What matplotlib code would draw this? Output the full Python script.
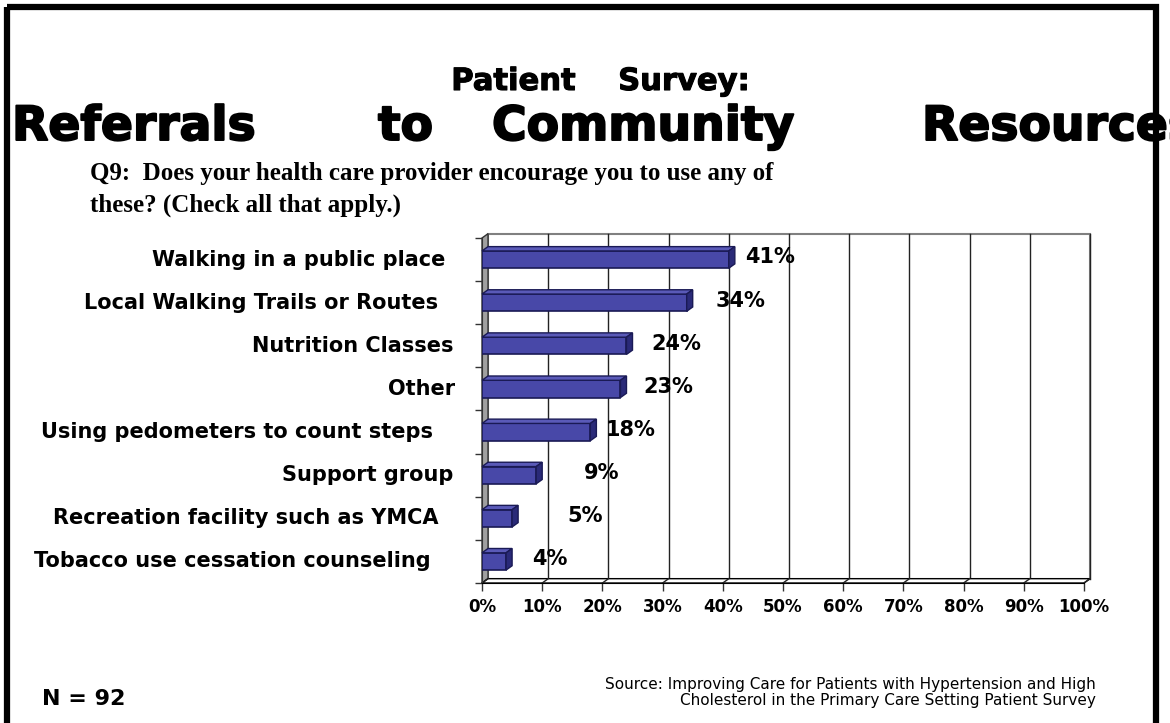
import matplotlib
matplotlib.use("Agg")
import matplotlib.pyplot as plt
import matplotlib.patheffects as pe
from matplotlib.patches import Polygon, Rectangle

# Survey answers, top to bottom
categories = [
    "Walking in a public place",
    "Local Walking Trails or Routes",
    "Nutrition Classes",
    "Other",
    "Using pedometers to count steps",
    "Support group",
    "Recreation facility such as YMCA",
    "Tobacco use cessation counseling",
]
percents = [41, 34, 24, 23, 18, 9, 5, 4]
x_ticks = [0, 10, 20, 30, 40, 50, 60, 70, 80, 90, 100]
x_tick_labels = [f"{t}%" for t in x_ticks]

# hand placement of the labels, in % of the value axis
name_right = [-6.1, -7.3, -4.8, -4.5, -8.1, -4.8, -7.3, -8.6]
value_nudge = [6.8, 9.0, 8.2, 7.9, 6.7, 10.8, 12.1, 7.3]

W, H = 1170, 723
FRONT = "#4848a8"
TOP = "#5a5ab8"
SIDE = "#2a2a78"
EDGE = "#1a1a55"
SANS = "DejaVu Sans"
SERIF = "Liberation Serif"

fig = plt.figure(figsize=(W / 100, H / 100), dpi=100)
fig.patch.set_facecolor("white")

# full-page layer in pixel units for the slide text and frame
page = fig.add_axes([0, 0, 1, 1])
page.set_xlim(0, W)
page.set_ylim(H, 0)
page.axis("off")

page.text(600, 90, "Patient    Survey:", ha="center", va="baseline",
          fontsize=22, fontweight="bold", family=SANS,
          path_effects=[pe.withStroke(linewidth=0.8, foreground="black")])

clip = Rectangle((0, 0), 1156, H, transform=page.transData)
for word, x0 in zip(["Referrals", "to", "Community", "Resources"],
                    [12, 378, 492, 922]):
    t = page.text(x0, 140, word, ha="left", va="baseline",
                  fontsize=34, fontweight="bold", family=SANS,
                  path_effects=[pe.withStroke(linewidth=1.4, foreground="black")])
    t.set_clip_path(clip)

page.text(90, 180, "Q9:  Does your health care provider encourage you to use any of",
          ha="left", va="baseline", fontsize=18, fontweight="bold", family=SERIF)
page.text(90, 212, "these? (Check all that apply.)",
          ha="left", va="baseline", fontsize=18, fontweight="bold", family=SERIF)

page.text(42, 705, "N = 92", ha="left", va="baseline",
          fontsize=16, fontweight="bold", family=SANS)
page.text(1096, 705,
          "Source: Improving Care for Patients with Hypertension and High\n"
          "Cholesterol in the Primary Care Setting Patient Survey",
          ha="right", va="baseline", multialignment="right",
          fontsize=11, family=SANS, linespacing=1.1)

page.add_patch(Rectangle((7, 7), 1149, 760, fill=False, edgecolor="black",
                         linewidth=4.5, zorder=10))

# chart: front plane 0..100 % across, 8 slots down
ax = fig.add_axes([482 / W, 1 - 583 / H, 602 / W, 345 / H])
ax.set_xlim(0, 100)
ax.set_ylim(8, 0)
ax.set_facecolor("none")
n = len(categories)
dx, dy = 1.0, 0.1  # depth of the 3-D walls

# back wall with gridlines
ax.add_patch(Rectangle((dx, -dy), 100, n, facecolor="white",
                       edgecolor="#808080", linewidth=1.5, zorder=0, clip_on=False))
for t in x_ticks[1:]:
    ax.plot([t + dx, t + dx], [-dy, n - dy], color="#222222", linewidth=1,
            zorder=1, clip_on=False)

# left wall and floor
ax.add_patch(Polygon([(0, 0), (dx, -dy), (dx, n - dy), (0, n)], closed=True,
                     facecolor="#a0a0a0", edgecolor="#333333", linewidth=1,
                     zorder=2, clip_on=False))
ax.add_patch(Polygon([(0, n), (100, n), (100 + dx, n - dy), (dx, n - dy)],
                     closed=True, facecolor="white", edgecolor="black",
                     linewidth=1, zorder=2, clip_on=False))
for t in x_ticks:
    ax.plot([t, t + dx], [n, n - dy], color="#222222", linewidth=1,
            zorder=2, clip_on=False)

# bars: front faces from barh, then top and side faces
ypos = [i + 0.5 for i in range(n)]
bh = 0.4
ax.barh(ypos, percents, height=bh, left=0, color=FRONT, edgecolor=EDGE,
        linewidth=1.2, zorder=4)
for y, v in zip(ypos, percents):
    top, bot = y - bh / 2, y + bh / 2
    ax.add_patch(Polygon([(0, top), (dx, top - dy), (v + dx, top - dy), (v, top)],
                         closed=True, facecolor=TOP, edgecolor=EDGE,
                         linewidth=1, zorder=4, clip_on=False))
    ax.add_patch(Polygon([(v, top), (v + dx, top - dy), (v + dx, bot - dy), (v, bot)],
                         closed=True, facecolor=SIDE, edgecolor=EDGE,
                         linewidth=1, zorder=4, clip_on=False))

for y, v, nx in zip(ypos, percents, value_nudge):
    ax.text(v + nx, y - 0.05, f"{v}%", ha="center", va="center",
            fontsize=15, fontweight="bold", family=SANS, zorder=6)

for y, name, rx in zip(ypos, categories, name_right):
    ax.text(rx, y, name, ha="right", va="center", fontsize=15,
            fontweight="bold", family=SANS, clip_on=False)

ax.set_xticks(x_ticks)
ax.set_xticklabels(x_tick_labels, fontsize=12, fontweight="bold", family=SANS)
ax.set_yticks(range(n + 1))
ax.set_yticklabels([])
ax.tick_params(axis="x", length=6, width=1, direction="out", pad=5, color="#333333")
ax.tick_params(axis="y", length=5, width=1, direction="out", color="#333333")
for side in ["top", "right"]:
    ax.spines[side].set_visible(False)
ax.spines["bottom"].set_zorder(3)
ax.spines["left"].set_color("#333333")

fig.savefig("out.png", dpi=100)
